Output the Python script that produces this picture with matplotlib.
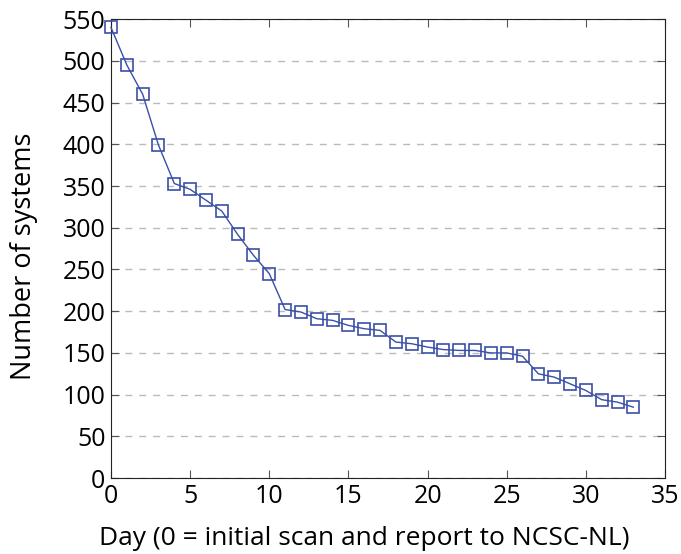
import matplotlib
matplotlib.use("Agg")
import matplotlib.pyplot as plt

# Systems still vulnerable per day
days = list(range(34))
systems = [540, 495, 460, 399, 353, 346, 333, 320, 292, 267, 245,
           202, 199, 191, 189, 183, 179, 177, 163, 161, 157, 154,
           153, 153, 150, 150, 146, 125, 121, 113, 105, 94, 91, 85]

x_ticks = [0, 5, 10, 15, 20, 25, 30, 35]
y_ticks = list(range(0, 551, 50))

plt.rcParams['font.family'] = ['Open Sans', 'DejaVu Sans']

fig = plt.figure(figsize=(6.81, 5.54), dpi=100)
ax = fig.add_axes([0.163, 0.137, 0.8135, 0.8285])

ax.plot(days, systems, color='#3a4fa8', linewidth=1.0, marker='s',
        markersize=9, markerfacecolor='none', markeredgecolor='#3a4fa8',
        markeredgewidth=1.2, clip_on=False, zorder=3)

ax.set_xlim(0, 35)
ax.set_ylim(0, 550)
ax.set_xticks(x_ticks)
ax.set_yticks(y_ticks)
ax.tick_params(direction='in', top=True, right=True, length=6,
               labelsize=18, color='#555555', pad=4)
for s in ax.spines.values():
    s.set_color('#222222')
ax.yaxis.grid(True, linestyle=(0, (5, 5)), color='#bbbbbb', linewidth=1)
ax.set_axisbelow(True)

ax.set_xlabel("Day (0 = initial scan and report to NCSC-NL)", fontsize=19,
              va='center', ha='center')
ax.xaxis.set_label_coords(0.457, -0.131)
ax.set_ylabel("Number of systems", fontsize=19.5, va='center', ha='center')
ax.yaxis.set_label_coords(-0.157, 0.484)

plt.savefig("out.png", dpi=100)
